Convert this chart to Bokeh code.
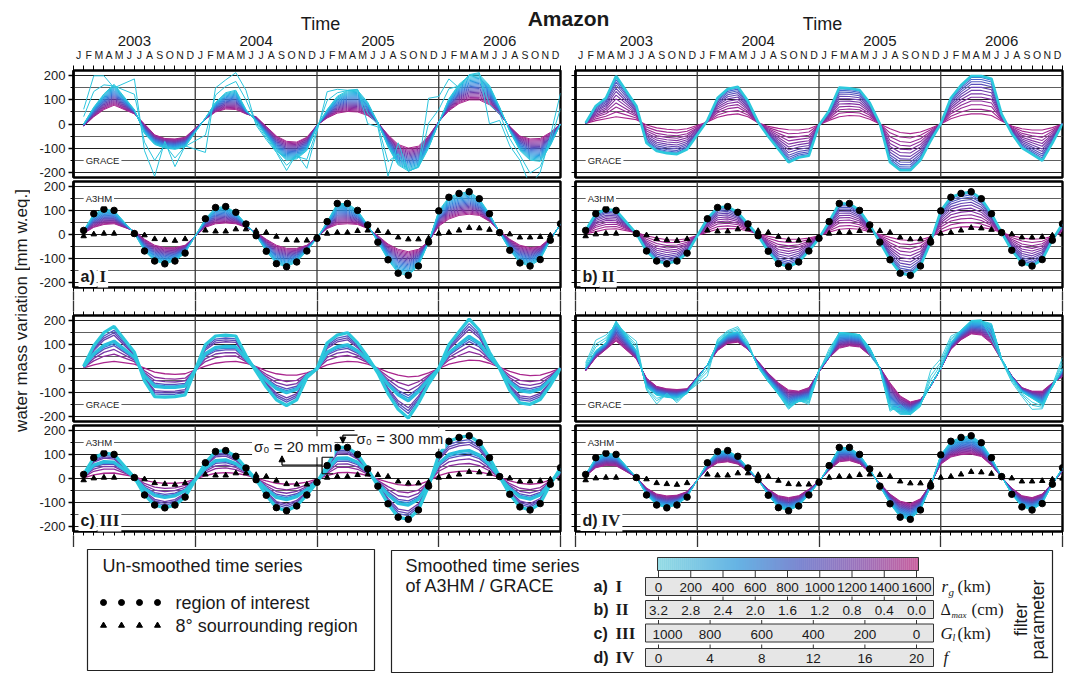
import math
from bokeh.plotting import figure
from bokeh.layouts import column, row
from bokeh.models import (Range1d, FixedTicker, LinearAxis, Span, Label, Arrow,
                          NormalHead, ColumnDataSource)
from bokeh.embed import file_html
from bokeh.resources import INLINE

SANS = "Liberation Sans"
SERIF = "Liberation Serif"
INK = "#1a1a1a"

# ------------------------------------------------------------------ data
# month index (1 = first plotted month of 2003); months 5 and 12 are missing
MONTH_X = [1, 2, 3, 4, 6, 7, 8, 9, 10, 11,
           13, 14, 15, 16, 17, 18, 19, 20, 21, 22, 23, 24,
           25, 26, 27, 28, 29, 30, 31, 32, 33, 34, 35, 36,
           37, 38, 39, 40, 41, 42, 43, 44, 45, 46, 47, 48]
MONTH_LETTERS = ["J", "F", "M", "A", "M", "J", "J", "A", "S", "O", "N", "D"]
YEARS = ["2003", "2004", "2005", "2006"]
YEAR_CENTERS = [6, 18, 30, 42]
YEAR_BOUNDS = [0, 12, 24, 36, 48]
Y_TICKS = [-200, -100, 0, 100, 200]
Y_MINOR = [-150, -50, 50, 150]

# un-smoothed A3HM, region of interest (dots)
A3HM_ROI = [17, 87, 106, 101, 4, -69, -111, -123, -111, -78,
            66, 113, 117, 93, 44, -5, -70, -122, -135, -115, -69, -16,
            54, 130, 130, 101, 40, -32, -106, -162, -171, -132, -32, 99,
            156, 172, 179, 150, 87, 8, -66, -119, -132, -105, -24, 45]
# un-smoothed A3HM, 8 deg surrounding region (triangles)
A3HM_SURR = [-7, 1, 4, 4, 1, -3, -19, -23, -26, -19,
             17, 13, 13, 22, 22, 15, 8, -9, -23, -25, -25, -12,
             4, 8, 8, 15, 17, 15, 8, -12, -20, -20, -16, 4,
             8, 17, 28, 26, 20, 8, 1, -12, -12, -10, -4, 0]
# GRACE, nearly unfiltered (spiky)
GRACE_RAW = [61, 200, 200, 150, 187, -111, -217, -72, -177, -91,
             -118, 150, 183, 213, 140, -5, -65, -118, -193, -124, -184, -32,
             134, 144, 140, 144, 1, -12, -217, -78, -197, -177, 107, 114,
             187, 150, 205, 213, 1, 15, -91, -150, -257, -200, -50, 128]
# panel a) GRACE: least / most smoothed curve
GRACE_CYAN_A = [0, 70, 125, 165, 60, -40, -85, -100, -105, -95,
                25, 90, 130, 140, 60, 10, -50, -110, -150, -145, -110, -10,
                60, 115, 138, 140, 90, 5, -95, -170, -195, -180, -100, 5,
                105, 165, 200, 205, 160, 70, -30, -110, -150, -155, -90, 0]
GRACE_MAG_A = [-9, 30, 60, 78, 42, 0, -45, -60, -62, -55,
               20, 50, 62, 60, 42, 30, -10, -50, -72, -75, -55, -5,
               25, 45, 52, 50, 35, 5, -45, -85, -100, -92, -50, 10,
               55, 85, 100, 100, 80, 40, -10, -50, -62, -60, -35, 0]
# panels b) and d) GRACE: least smoothed curve
GRACE_CYAN_B = [4, 75, 108, 199, 75, -79, -112, -121, -125, -105,
                15, 108, 145, 155, 95, 8, -52, -105, -159, -139, -132, -5,
                55, 151, 148, 141, 88, 1, -159, -192, -192, -150, -70, 1,
                108, 161, 199, 199, 188, 41, -39, -99, -125, -152, -79, 1]
GRACE_MAG_B = [2, 14, 22, 30, 18, -4, -16, -22, -25, -20,
               8, 28, 38, 42, 30, 5, -10, -18, -24, -25, -20, -3,
               15, 30, 35, 33, 20, 0, -20, -35, -40, -33, -18, 0,
               22, 35, 42, 42, 35, 12, -8, -20, -25, -25, -15, 0]
GRACE_CYAN_C = [10, 95, 150, 176, 68, -52, -118, -120, -118, -111,
                100, 136, 140, 136, 54, -12, -78, -131, -155, -131, -38, 0,
                107, 140, 150, 107, 48, -19, -105, -171, -208, -144, -65, 0,
                100, 154, 207, 160, 68, 0, -91, -144, -150, -130, -70, 0]
GRACE_MAG_C = [3, 15, 25, 30, 18, 2, -15, -22, -25, -22,
               10, 22, 28, 30, 22, 8, -10, -22, -28, -28, -18, -3,
               15, 25, 30, 28, 18, 2, -15, -28, -35, -32, -18, 0,
               18, 28, 35, 33, 22, 5, -12, -25, -30, -28, -15, 2]
GRACE_MAG_D = [-10, 45, 80, 115, 40, -40, -75, -85, -88, -85,
               15, 75, 105, 110, 80, 30, -20, -60, -90, -95, -80, -15,
               45, 85, 95, 90, 55, 5, -60, -115, -140, -130, -75, 0,
               80, 120, 145, 140, 105, 35, -30, -80, -95, -95, -60, -35]
# A3HM most smoothed curves (least smoothed follows the dots)
A3HM_MAG_A = [5, 30, 42, 45, 15, -20, -45, -55, -55, -45,
              30, 45, 48, 45, 30, 10, -20, -45, -58, -58, -45, -12,
              25, 42, 45, 42, 25, -5, -40, -62, -72, -62, -30, 35,
              65, 80, 85, 80, 55, 15, -20, -45, -55, -50, -15, 40]
A3HM_MAG_B = [2, 12, 22, 24, 8, -5, -15, -22, -23, -18,
              10, 22, 25, 24, 15, 2, -8, -16, -20, -20, -15, -5,
              10, 22, 25, 22, 12, 0, -12, -22, -25, -22, -10, 10,
              25, 32, 33, 30, 22, 8, -5, -15, -20, -18, -8, 10]
A3HM_MAG_C = [3, 15, 22, 23, 8, -8, -16, -20, -20, -16,
              12, 22, 25, 22, 14, 2, -10, -20, -24, -22, -15, -3,
              12, 24, 26, 22, 12, -3, -15, -26, -30, -26, -10, 12,
              25, 30, 32, 28, 18, 4, -10, -20, -24, -20, -6, 10]
A3HM_MAG_D = [10, 45, 55, 53, 5, -40, -65, -73, -70, -55,
              40, 65, 70, 60, 30, -5, -45, -72, -80, -72, -45, -10,
              35, 70, 75, 62, 25, -20, -65, -95, -105, -85, -25, 60,
              90, 100, 102, 92, 55, 5, -40, -72, -80, -65, -20, 30]

# position of each curve between least (0) and most (1) smoothed, read from the bundles
BLEND_A = [0.0, 0.05, 0.1, 0.15, 0.2, 0.25, 0.3, 0.35, 0.4, 0.45, 0.5,
           0.55, 0.6, 0.65, 0.7, 0.75, 0.8, 0.85, 0.9, 0.95, 1.0]
RAW_W_A = [1.0, 0.5]
BLEND_B = [0.0, 0.04, 0.09, 0.15, 0.22, 0.3, 0.38, 0.47, 0.56, 0.66, 0.76, 0.88, 1.0]
COLOR_B = [0.0, 0.45, 0.5, 0.55, 0.6, 0.65, 0.7, 0.75, 0.8, 0.85, 0.9, 0.95, 1.0]
BLEND_C = [0.0, 0.11, 0.18, 0.25, 0.42, 0.49, 0.55, 0.66, 0.79, 1.0]
COLOR_C = [0.0, 0.55, 0.62, 0.7, 0.05, 0.35, 0.6, 0.75, 0.85, 1.0]
WIDTH_C = [3.2, 1.3, 1.3, 1.3, 3.2, 1.3, 1.3, 1.3, 1.3, 1.3]
BLEND_D = [0.0, 0.04, 0.08, 0.12, 0.16, 0.2, 0.24, 0.28, 0.32, 0.36, 0.4, 0.44, 0.48,
           0.52, 0.56, 0.6, 0.64, 0.68, 0.72, 0.76, 0.8, 0.84, 0.88, 0.92, 0.96, 1.0]
RAW_W_D = [0.35, 0.22, 0.12]

# legend scales
RG_LABELS = ["0", "200", "400", "600", "800", "1000", "1200", "1400", "1600"]
DMAX_LABELS = ["3.2", "2.8", "2.4", "2.0", "1.6", "1.2", "0.8", "0.4", "0.0"]
GL_LABELS = ["1000", "800", "600", "400", "200", "0"]
F_LABELS = ["0", "4", "8", "12", "16", "20"]

# ------------------------------------------------------------------ styles
LINE_STOPS = [(0.0, "#2CC8DC"), (0.22, "#27A2E2"), (0.45, "#3D70D4"),
              (0.65, "#6444B2"), (0.82, "#872E9F"), (1.0, "#AA268E")]
CB_STOPS = [(0.0, "#94DCE4"), (0.3, "#66B4E4"), (0.55, "#7C86D0"),
            (0.8, "#A070B8"), (1.0, "#C8609E")]


def mix(stops, f):
    f = min(max(f, 0.0), 1.0)
    for (f0, c0), (f1, c1) in zip(stops[:-1], stops[1:]):
        if f <= f1:
            t = (f - f0) / (f1 - f0)
            a = [int(c0[i:i + 2], 16) for i in (1, 3, 5)]
            b = [int(c1[i:i + 2], 16) for i in (1, 3, 5)]
            return "#%02x%02x%02x" % tuple(int(round(a[j] + t * (b[j] - a[j]))) for j in range(3))
    return stops[-1][1]


def blend(base, target, w):
    return [b + w * (t - b) for b, t in zip(base, target)]


def add_family(p, base, target, weights, cfracs, widths):
    order = sorted(range(len(weights)), key=lambda k: -cfracs[k])
    xs, ys, cs, ws = [], [], [], []
    for k in order:
        xs.append(MONTH_X)
        ys.append(blend(base, target, weights[k]))
        cs.append(mix(LINE_STOPS, cfracs[k]))
        ws.append(widths[k])
    src = ColumnDataSource(dict(xs=xs, ys=ys, c=cs, w=ws))
    p.multi_line(xs="xs", ys="ys", line_color="c", line_width="w", source=src)


FRAME_H = 110


def make_panel(left, top_b, bot_b):
    p = figure(width=532 if left else 503, height=FRAME_H + top_b + bot_b,
               x_range=Range1d(0, 48), y_range=Range1d(-222, 222),
               x_axis_location=None, y_axis_location="left",
               min_border_left=43 if left else 13, min_border_right=2 if left else 3,
               min_border_top=top_b, min_border_bottom=bot_b,
               output_backend="svg", toolbar_location=None, tools="")
    p.outline_line_color = "black"
    p.outline_line_width = 2.4
    p.border_fill_color = "white"
    p.xgrid.visible = False
    p.ygrid.ticker = FixedTicker(ticks=Y_TICKS, minor_ticks=Y_MINOR)
    p.ygrid.grid_line_color = "#1e1e1e"
    p.ygrid.grid_line_width = 1
    p.ygrid.minor_grid_line_color = "#5e5e5e"
    p.ygrid.minor_grid_line_width = 1
    ya = p.yaxis[0]
    ya.axis_line_width = 2.4
    ya.major_tick_in = 0
    ya.minor_tick_in = 0
    if left:
        ya.ticker = FixedTicker(ticks=Y_TICKS, minor_ticks=Y_MINOR)
        ya.major_label_overrides = {v: str(v) for v in Y_TICKS}
        ya.major_tick_out = 5
        ya.minor_tick_out = 3
        ya.major_tick_line_width = 1.3
        ya.major_label_text_font = SANS
        ya.major_label_text_font_size = "13px"
        ya.major_label_text_color = INK
        ya.major_label_standoff = 3
    else:
        ya.ticker = FixedTicker(ticks=[], minor_ticks=Y_TICKS + Y_MINOR)
        ya.major_tick_out = 0
        ya.minor_tick_out = 4
        ya.minor_tick_line_width = 1.2
        ya.major_label_standoff = 0
    for xb in YEAR_BOUNDS[1:-1]:
        p.add_layout(Span(location=xb, dimension="height", line_color="#3a3a3a",
                          line_width=1.3, level="underlay"))
    return p


def month_axes(p):
    centers = [m + 0.5 for m in range(48)]
    ax1 = LinearAxis(ticker=FixedTicker(ticks=centers, minor_ticks=list(range(49))),
                     major_label_overrides=dict(zip(centers, MONTH_LETTERS * 4)),
                     major_tick_out=0, major_tick_in=0, minor_tick_out=5, minor_tick_in=0,
                     major_label_standoff=5, major_label_text_font=SANS,
                     major_label_text_font_size="10.5px", major_label_text_color=INK,
                     axis_line_color=None)
    ax2 = LinearAxis(ticker=FixedTicker(ticks=YEAR_CENTERS, minor_ticks=[]),
                     major_label_overrides=dict(zip(YEAR_CENTERS, YEARS)),
                     major_tick_out=0, major_tick_in=0, minor_tick_out=0, minor_tick_in=0,
                     major_label_standoff=0, major_label_text_font=SANS,
                     major_label_text_font_size="15px", major_label_text_color=INK,
                     axis_line_color=None)
    p.add_layout(ax1, "above")
    p.add_layout(ax2, "above")


def tick_axes(p, side, out):
    # month ticks and year-boundary lines crossing the gap between panels (no labels)
    months = LinearAxis(ticker=FixedTicker(ticks=[], minor_ticks=list(range(49))),
                        major_tick_out=0, major_tick_in=0, minor_tick_out=4, minor_tick_in=0,
                        major_label_standoff=0, axis_line_color=None)
    years = LinearAxis(ticker=FixedTicker(ticks=[], minor_ticks=YEAR_BOUNDS),
                       major_tick_out=0, major_tick_in=0, minor_tick_out=out, minor_tick_in=0,
                       major_label_standoff=0, axis_line_color=None,
                       minor_tick_line_color="#333333", minor_tick_line_width=1.3)
    p.add_layout(months, side)
    p.add_layout(years, side)


def tag(p, kind):
    y = -150 if kind == "GRACE" else 150
    p.add_layout(Label(x=1.0, y=y, text=kind, text_font=SANS, text_font_size="9.5px",
                       text_baseline="middle", text_color="#222222",
                       background_fill_color="white", padding=2))


def panel_id(p, letter, roman):
    p.add_layout(Label(x=0, y=-176, x_offset=5, text=letter + ")", text_font=SANS,
                       text_font_style="bold", text_font_size="16px", text_baseline="middle",
                       text_color=INK, background_fill_color="white", padding=2))
    p.add_layout(Label(x=0, y=-176, x_offset=24, text=roman, text_font=SERIF,
                       text_font_style="bold", text_font_size="17px", text_baseline="middle",
                       text_color=INK, background_fill_color="white", padding=2))


def points(p):
    p.scatter(MONTH_X, A3HM_SURR, marker="triangle", size=5.5, color="black")
    p.scatter(MONTH_X, A3HM_ROI, marker="circle", size=6.5, color="black")


# ---------------------------------------------------------------- panels
Ga = make_panel(True, 35, 2); month_axes(Ga)
Gb = make_panel(False, 35, 2); month_axes(Gb)
Aa = make_panel(True, 2, 9); tick_axes(Aa, "below", 9)
Ab = make_panel(False, 2, 9); tick_axes(Ab, "below", 9)
Gc = make_panel(True, 11, 2); tick_axes(Gc, "above", 11)
Gd = make_panel(False, 11, 2); tick_axes(Gd, "above", 11)
Ac = make_panel(True, 2, 12); tick_axes(Ac, "below", 12)
Ad = make_panel(False, 2, 12); tick_axes(Ad, "below", 12)

# a) I
add_family(Ga, GRACE_CYAN_A, GRACE_MAG_A, BLEND_A, BLEND_A, [1.0] * len(BLEND_A))
add_family(Ga, GRACE_CYAN_A, GRACE_RAW, RAW_W_A, [0.02] * 2, [1.0] * 2)
add_family(Aa, A3HM_ROI, A3HM_MAG_A, BLEND_A, BLEND_A, [1.0] * len(BLEND_A))
# b) II
add_family(Gb, GRACE_CYAN_B, GRACE_MAG_B, BLEND_B, COLOR_B, [2.6] + [1.1] * (len(BLEND_B) - 1))
add_family(Ab, A3HM_ROI, A3HM_MAG_B, BLEND_B, COLOR_B, [2.6] + [1.1] * (len(BLEND_B) - 1))
# c) III
add_family(Gc, GRACE_CYAN_C, GRACE_MAG_C, BLEND_C, COLOR_C, WIDTH_C)
add_family(Ac, A3HM_ROI, A3HM_MAG_C, BLEND_C, COLOR_C, WIDTH_C)
# d) IV
add_family(Gd, GRACE_CYAN_B, GRACE_MAG_D, BLEND_D, BLEND_D, [1.0] * len(BLEND_D))
add_family(Gd, GRACE_CYAN_B, GRACE_RAW, RAW_W_D, [0.0] * 3, [0.9] * 3)
add_family(Ad, A3HM_ROI, A3HM_MAG_D, BLEND_D, BLEND_D, [1.0] * len(BLEND_D))

for p in (Aa, Ab, Ac, Ad):
    points(p)
    tag(p, "A3HM")
for p in (Ga, Gb, Gc, Gd):
    tag(p, "GRACE")
panel_id(Aa, "a", "I")
panel_id(Ab, "b", "II")
panel_id(Ac, "c", "III")
panel_id(Ad, "d", "IV")

# sigma annotations in c)
Ac.add_layout(Label(x=17.6, y=133, text="σ₀ = 20 mm", text_font=SANS, text_font_size="15px",
                    text_baseline="middle", text_color=INK, background_fill_color="white",
                    padding=2))
Ac.add_layout(Label(x=27.7, y=169, text="σ₀ = 300 mm", text_font=SANS, text_font_size="15px",
                    text_baseline="middle", text_color=INK, background_fill_color="white",
                    padding=2))
Ac.add_layout(Arrow(end=NormalHead(size=6, fill_color="black", line_color="black"),
                    x_start=20.55, y_start=56, x_end=20.55, y_end=95, line_width=1.2))
for (x0, y0, x1, y1) in [(20.55, 56, 24.5, 56), (24.5, 89, 24.5, 20), (24.5, 89, 25.6, 89),
                         (24.5, 20, 25.6, 20), (26.55, 182, 28.0, 182)]:
    Ac.add_layout(Arrow(end=None, x_start=x0, y_start=y0, x_end=x1, y_end=y1, line_width=1.2))
Ac.add_layout(Arrow(end=NormalHead(size=6, fill_color="black", line_color="black"),
                    x_start=26.55, y_start=182, x_end=26.55, y_end=148, line_width=1.2))


# ---------------------------------------------------------------- canvases
def canvas(w, h):
    p = figure(width=w, height=h, x_range=Range1d(0, w), y_range=Range1d(h, 0),
               min_border=0, x_axis_location=None, y_axis_location=None,
               output_backend="svg", toolbar_location=None, tools="")
    p.outline_line_color = None
    p.xgrid.visible = False
    p.ygrid.visible = False
    return p


def txt(p, x, y, s, size="18px", font=SANS, style="normal", align="left", angle=0.0):
    p.add_layout(Label(x=x, y=y, text=s, text_font=font, text_font_size=size,
                       text_font_style=style, text_align=align, text_baseline="middle",
                       text_color=INK, angle=angle))


hdr = canvas(1065, 32)
txt(hdr, 568, 18, "Amazon", size="21px", style="bold", align="center")
txt(hdr, 320, 23, "Time", size="18px", align="center")
txt(hdr, 822, 23, "Time", size="18px", align="center")

ylab = canvas(30, 515)
txt(ylab, 21, 278, "water mass variation [mm w.eq.]", size="17px", align="center",
    angle=math.pi / 2)

lg = canvas(1065, 130)
# box 1
lg.quad(left=[87], right=[374], top=[2], bottom=[123], fill_color=None,
        line_color="#222222", line_width=1.2)
txt(lg, 102, 18, "Un-smoothed time series")
lg.scatter(x=[103, 121, 139, 157], y=[55] * 4, marker="circle", size=6, color="black")
txt(lg, 175, 55, "region of interest")
lg.scatter(x=[103, 121, 139, 157], y=[78] * 4, marker="triangle", size=6, color="black")
txt(lg, 175, 78, "8° sourrounding region")
# box 2
lg.quad(left=[391], right=[1052], top=[3], bottom=[125], fill_color=None,
        line_color="#222222", line_width=1.2)
txt(lg, 405, 18, "Smoothed time series")
txt(lg, 405, 38, "of A3HM / GRACE")
CB_L, CB_R = 657.0, 918.0
nseg = 130
segw = (CB_R - CB_L) / nseg
lg.quad(left=[CB_L + i * segw for i in range(nseg)],
        right=[CB_L + (i + 1) * segw + 0.3 for i in range(nseg)],
        top=[10] * nseg, bottom=[23] * nseg,
        fill_color=[mix(CB_STOPS, (i + 0.5) / nseg) for i in range(nseg)], line_color=None)
lg.quad(left=[CB_L], right=[CB_R], top=[10], bottom=[23], fill_color=None,
        line_color="#333333", line_width=1)

ROW_C = [39, 62, 85.5, 110]
ROWS = [("a)", "I", RG_LABELS), ("b)", "II", DMAX_LABELS),
        ("c)", "III", GL_LABELS), ("d)", "IV", F_LABELS)]
S0, S1 = 658.0, 916.0
lg.quad(left=[645] * 4, right=[933] * 4, top=[c - 9 for c in ROW_C],
        bottom=[c + 9 for c in ROW_C], fill_color="#e6e6e6", line_color="#333333",
        line_width=1)
tx0, tx1, ty0, ty1 = [], [], [], []
for k, (let, rom, labs) in enumerate(ROWS):
    c = ROW_C[k]
    txt(lg, 593, c, let, size="16px", style="bold")
    txt(lg, 615, c, rom, size="17px", font=SERIF, style="bold")
    n = len(labs) - 1
    for i, s in enumerate(labs):
        x = S0 + (S1 - S0) * i / n
        tx0.append(x); tx1.append(x)
        ty0.append(23 if k == 0 else c - 13); ty1.append(c - 9)
        if k == 2 and i == 0:
            x += 9
        txt(lg, x, c + 1, s, size="13.5px", align="center")
lg.segment(x0=tx0, y0=ty0, x1=tx1, y1=ty1, line_color="#333333", line_width=1)

# filter parameter names
txt(lg, 941, 39, "r", size="17px", font=SERIF, style="italic")
txt(lg, 948, 44, "g", size="11px", font=SERIF, style="italic")
txt(lg, 957, 39, "(km)", size="17px", font=SERIF)
txt(lg, 940, 62, "Δ", size="16px", font=SERIF)
txt(lg, 951, 67, "max", size="9px", font=SERIF, style="italic")
txt(lg, 971, 62, "(cm)", size="17px", font=SERIF)
txt(lg, 940, 85.5, "G", size="17px", font=SERIF, style="italic")
txt(lg, 952, 90, "l", size="10px", font=SERIF, style="italic")
txt(lg, 957, 85.5, "(km)", size="17px", font=SERIF)
txt(lg, 943, 110, "f", size="17px", font=SERIF, style="italic")
txt(lg, 1020, 72, "filter", size="17.5px", align="center", angle=math.pi / 2)
txt(lg, 1037, 72, "parameter", size="17.5px", align="center", angle=math.pi / 2)

grid = column(row(Ga, Gb), row(Aa, Ab), row(Gc, Gd), row(Ac, Ad))
layout = column(hdr, row(ylab, grid), lg)

open("out.html", "w").write(file_html(layout, INLINE))
